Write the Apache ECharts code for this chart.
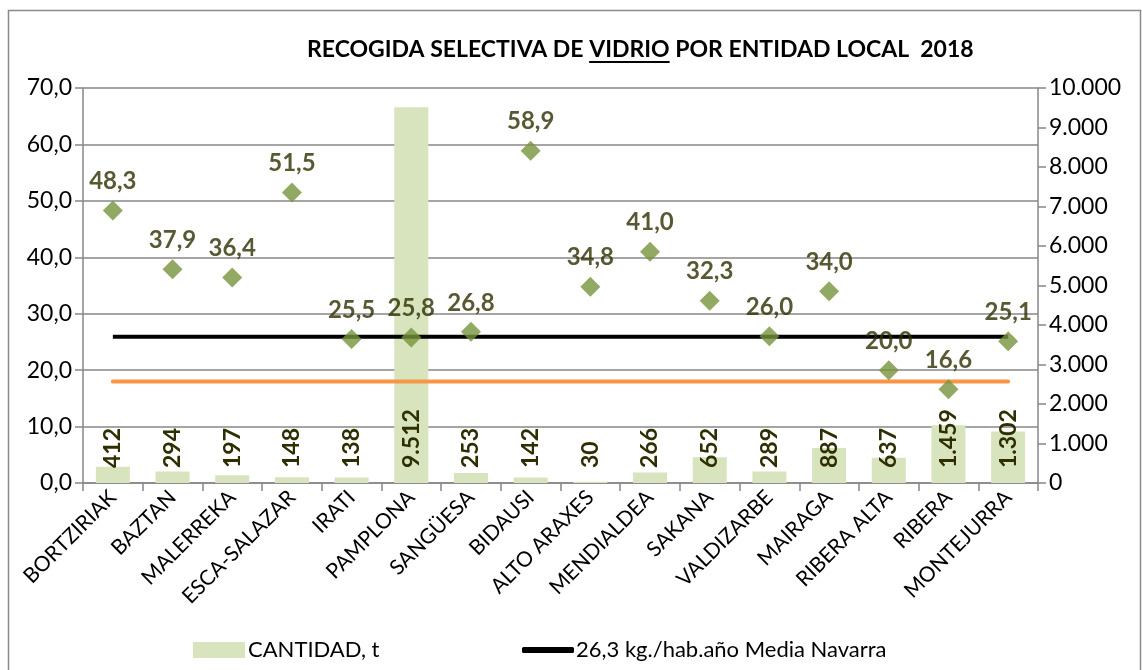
<!DOCTYPE html>
<html>
<head>
<meta charset="utf-8">
<script src="https://cdn.jsdelivr.net/npm/echarts@6/dist/echarts.min.js"></script>
<style>
  html, body { margin: 0; padding: 0; background: #fff; }
  #chart { width: 1142px; height: 670px; }
</style>
</head>
<body>
<div id="chart"></div>
<script>
var chartDom = document.getElementById('chart');

var categories = ['BORTZIRIAK', 'BAZTAN', 'MALERREKA', 'ESCA-SALAZAR', 'IRATI', 'PAMPLONA', 'SANGÜESA', 'BIDAUSI',
    'ALTO ARAXES', 'MENDIALDEA', 'SAKANA', 'VALDIZARBE', 'MAIRAGA', 'RIBERA ALTA', 'RIBERA', 'MONTEJURRA'];

// toneladas (eje derecho)
var cantidad = [412, 294, 197, 148, 138, 9512, 253, 142, 30, 266, 652, 289, 887, 637, 1459, 1302];

// kg/hab.año (eje izquierdo)
var kgHab = [48.3, 37.9, 36.4, 51.5, 25.5, 25.8, 26.8, 58.9, 34.8, 41.0, 32.3, 26.0, 34.0, 20.0, 16.6, 25.1];

var mediaNavarra = 25.9;
var lineaNaranja = 18.0;

var FONT = 'Lato, "Noto Sans", sans-serif';
var labelColor = '#2e2e00';
var gridColor = '#878787';

function fmtComma(v) {
    return v.toFixed(1).replace('.', ',');
}
function fmtThousands(v) {
    return String(Math.round(v)).replace(/\B(?=(\d{3})+(?!\d))/g, '.');
}

var titleText = 'RECOGIDA SELECTIVA DE VIDRIO POR ENTIDAD LOCAL  2018';
var titleLeft = 307;
var titleTop = 38;
var titleSize = 23;

// subrayado de "VIDRIO"
var ctx = document.createElement('canvas').getContext('2d');
ctx.font = 'bold ' + titleSize + 'px ' + FONT;
var preW = ctx.measureText('RECOGIDA SELECTIVA DE ').width;
var vidW = ctx.measureText('VIDRIO').width;

var option = {
    animation: false,
    textStyle: { fontFamily: FONT },
    title: {
        text: titleText,
        left: titleLeft,
        top: titleTop,
        padding: 0,
        textStyle: {
            fontFamily: FONT,
            fontSize: titleSize,
            fontWeight: 'bold',
            color: '#000'
        }
    },
    graphic: [
        {
            type: 'rect',
            silent: true,
            shape: { x: 8.5, y: 10.5, width: 1132, height: 700 },
            style: { fill: 'none', stroke: '#8a8a8a', lineWidth: 1.5 }
        },
        {
            type: 'line',
            silent: true,
            shape: { x1: titleLeft + preW, y1: 62, x2: titleLeft + preW + vidW, y2: 62 },
            style: { stroke: '#000', lineWidth: 2 }
        }
    ],
    legend: [
        {
            left: 188,
            top: 634,
            itemWidth: 52,
            itemHeight: 16,
            itemGap: 0,
            textStyle: { fontFamily: FONT, fontSize: 22, color: '#000', padding: [0, 0, 0, -2] },
            data: [{ name: 'CANTIDAD, t', icon: 'rect' }]
        },
        {
            left: 517,
            top: 634,
            itemWidth: 52,
            itemHeight: 6,
            textStyle: { fontFamily: FONT, fontSize: 22, color: '#000', padding: [0, 0, 0, -3] },
            data: [{ name: '26,3 kg./hab.año Media Navarra', icon: 'roundRect' }]
        }
    ],
    grid: {
        left: 83,
        right: 104,
        top: 88,
        bottom: 187,
        containLabel: false
    },
    xAxis: {
        type: 'category',
        data: categories,
        boundaryGap: true,
        axisLine: { lineStyle: { color: gridColor, width: 1.5 } },
        axisTick: { show: true, length: 8, alignWithLabel: false, lineStyle: { color: gridColor, width: 1.5 } },
        axisLabel: {
            rotate: 45,
            interval: 0,
            margin: 11,
            fontFamily: FONT,
            fontSize: 21,
            color: '#000'
        }
    },
    yAxis: [
        {
            type: 'value',
            min: 0,
            max: 70,
            interval: 10,
            axisLine: { show: true, lineStyle: { color: gridColor, width: 1.5 } },
            axisTick: { show: true, inside: false, length: 8, lineStyle: { color: gridColor, width: 1.5 } },
            splitLine: { show: true, lineStyle: { color: gridColor, width: 1.5 } },
            axisLabel: {
                formatter: function (v) { return fmtComma(v); },
                margin: 11,
                fontFamily: FONT,
                fontSize: 23,
                color: '#000'
            }
        },
        {
            type: 'value',
            min: 0,
            max: 10000,
            interval: 1000,
            position: 'right',
            axisLine: { show: true, lineStyle: { color: gridColor, width: 1.5 } },
            axisTick: { show: true, inside: false, length: 8, lineStyle: { color: gridColor, width: 1.5 } },
            splitLine: { show: false },
            axisLabel: {
                formatter: function (v) { return fmtThousands(v); },
                margin: 11,
                fontFamily: FONT,
                fontSize: 23,
                color: '#000'
            }
        }
    ],
    series: [
        {
            name: 'CANTIDAD, t',
            type: 'bar',
            yAxisIndex: 1,
            barWidth: 34,
            data: cantidad,
            itemStyle: { color: '#d7e4bd' },
            z: 1,
            label: {
                show: true,
                position: 'insideBottom',
                distance: 15,
                rotate: 90,
                align: 'left',
                verticalAlign: 'middle',
                formatter: function (p) { return fmtThousands(p.value); },
                fontFamily: FONT,
                fontSize: 23,
                fontWeight: 'bold',
                color: labelColor
            }
        },
        {
            name: 'Objetivo',
            type: 'line',
            yAxisIndex: 0,
            data: categories.map(function () { return lineaNaranja; }),
            showSymbol: false,
            lineStyle: { color: '#f79646', width: 4, cap: 'round' },
            z: 3
        },
        {
            name: '26,3 kg./hab.año Media Navarra',
            type: 'line',
            yAxisIndex: 0,
            data: categories.map(function () { return mediaNavarra; }),
            showSymbol: false,
            itemStyle: { color: '#000' },
            lineStyle: { color: '#000', width: 4 },
            z: 3
        },
        {
            name: 'kg/hab',
            type: 'scatter',
            yAxisIndex: 0,
            data: kgHab,
            symbol: 'diamond',
            symbolSize: 20,
            itemStyle: { color: '#77933c' },
            z: 5,
            label: {
                show: true,
                position: 'top',
                distance: 7,
                formatter: function (p) { return fmtComma(p.value); },
                fontFamily: FONT,
                fontSize: 24,
                fontWeight: 'bold',
                color: labelColor
            }
        }
    ]
};

echarts.init(chartDom).setOption(option, true);
</script>
</body>
</html>
